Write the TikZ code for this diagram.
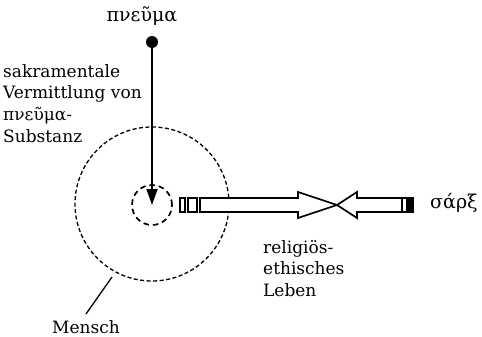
\documentclass[tikz,border=0pt]{standalone}
\usepackage{fontspec}
\setmainfont{DejaVu Serif}
\usetikzlibrary{arrows.meta, positioning}
\tikzstyle{txt} = [inner sep=0pt, align=left, font=\fontsize{17}{21.7}\selectfont]
\tikzstyle{greek} = [inner sep=0pt, font=\fontsize{19}{22}\selectfont]
\tikzstyle{zone} = [draw, circle, inner sep=0pt, line width=1.3pt, dash pattern=on 4pt off 2.5pt]
\tikzstyle{core} = [draw, circle, inner sep=0pt, line width=1.7pt, dash pattern=on 5.5pt off 4pt]
\tikzstyle{block} = [draw, fill=white, line width=1.7pt, line join=miter]

\begin{document}
\begin{tikzpicture}[x=1pt, y=-1pt]
  \useasboundingbox (0,0) rectangle (482,337);

  \node[greek, anchor=base] (pneuma) at (142,22) {πνεῦμα};
  \node[circle, fill, inner sep=0pt, minimum size=12pt] (dot) at (152,42) {};

  \node[zone, minimum size=154pt] (mensch) at (152,204) {};
  \node[core, minimum size=40pt] (inner) at (152,205) {};

  \draw [-{Triangle[length=16pt, width=11pt]}, line width=1.9pt] (dot.center) -- (inner.center);

  % kleine Kaestchen vor dem Pfeil
  \draw [block] (180,198) rectangle (185,212);
  \draw [block] (188,198) rectangle (197,212);

  \coordinate (meet) at (337,205);
  \draw [block] (200,198) -- (298,198) -- (298,192) -- (meet) -- (298,218) -- (298,212) -- (200,212) -- cycle;
  \draw [block] (402,198) -- (357,198) -- (357,192) -- (meet) -- (357,218) -- (357,212) -- (402,212) -- cycle;
  \draw [block] (402,198) rectangle (413,212);
  \fill (406,198) rectangle (413,212);

  \node[greek, anchor=base west] (sarx) at (430,208) {σάρξ};

  \node[txt, anchor=north west] (sakr) at (3,64) {sakramentale\\Vermittlung von\\πνεῦμα-\\Substanz};
  \node[txt, anchor=north west] (leben) at (263,240) {religiös-\\ethisches\\Leben};

  \node[txt, anchor=base west] (mlabel) at (52,333) {Mensch};
  \coordinate (mfoot) at (86,314);
  \coordinate (mtop) at (112,277);
  \draw [line width=1.3pt] (mfoot) -- (mtop);

\end{tikzpicture}
\end{document}
